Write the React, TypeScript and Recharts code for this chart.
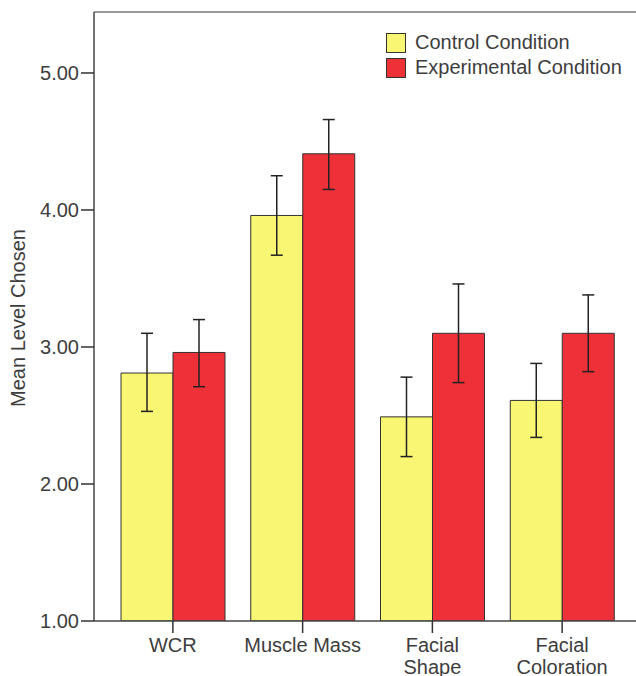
import { BarChart, Bar, XAxis, YAxis, ErrorBar, Legend, ReferenceLine, Label } from 'recharts'

const categories = ['WCR', 'Muscle Mass', 'Facial\nShape', 'Facial\nColoration']
const controlMeans = [2.81, 3.96, 2.49, 2.61]
const controlErrors = [[0.28, 0.29], [0.29, 0.29], [0.29, 0.29], [0.27, 0.27]]
const experimentalMeans = [2.96, 4.41, 3.10, 3.10]
const experimentalErrors = [[0.25, 0.24], [0.26, 0.25], [0.36, 0.36], [0.28, 0.28]]
const yTicks = [1, 2, 3, 4, 5]
const Y_MIN = 1
const Y_MAX = 5.445

const seriesNames = ['Control Condition', 'Experimental Condition']
const YELLOW = '#f8f672'
const RED = '#ee3039'
const TEXT = '#3d3d3d'
const FONT = 'Arial, "Liberation Sans", Helvetica, sans-serif'

const chartData = categories.map((name, i) => ({
  name,
  control: controlMeans[i],
  controlErr: controlErrors[i],
  experimental: experimentalMeans[i],
  experimentalErr: experimentalErrors[i]
}))

function CategoryTick({ x, y, payload }: any) {
  const lines = String(payload.value).split('\n')
  return (
    <text x={x} y={y} textAnchor="middle" fill={TEXT} fontSize={20} fontFamily={FONT}>
      {lines.map((line, i) => (
        <tspan key={i} x={x} dy={i === 0 ? 17 : 22}>{line}</tspan>
      ))}
    </text>
  )
}

function LegendBox() {
  const colors = [YELLOW, RED]
  return (
    <div style={{ fontFamily: FONT, fontSize: 20, color: TEXT }}>
      {seriesNames.map((name, i) => (
        <div key={name} style={{ display: 'flex', alignItems: 'center', height: 25 }}>
          <span style={{
            width: 18, height: 18, background: colors[i],
            border: '1px solid #333', marginRight: 9, display: 'inline-block'
          }} />
          <span style={{ lineHeight: '25px' }}>{name}</span>
        </div>
      ))}
    </div>
  )
}

export default function App() {
  return (
    <div style={{ position: 'absolute', left: 0, top: 0, background: '#fff' }}>
      <BarChart
        width={636}
        height={676}
        data={chartData}
        margin={{ top: 12, right: 0, bottom: 0, left: 0 }}
        barGap={0}
        barSize={52}
      >
        <XAxis
          dataKey="name"
          height={55}
          padding={{ left: 14, right: 9 }}
          interval={0}
          tickSize={12}
          tickMargin={2}
          tick={<CategoryTick />}
          axisLine={{ stroke: '#444', strokeWidth: 1.5 }}
          tickLine={{ stroke: '#333', strokeWidth: 1.5 }}
        />
        <YAxis
          width={94}
          domain={[Y_MIN, Y_MAX]}
          ticks={yTicks}
          allowDataOverflow
          tickFormatter={(v: number) => v.toFixed(2)}
          tickSize={13}
          tickMargin={2}
          tick={{ fill: TEXT, fontSize: 20, fontFamily: FONT }}
          axisLine={{ stroke: '#444', strokeWidth: 1.5 }}
          tickLine={{ stroke: '#333', strokeWidth: 1.5 }}
        >
          <Label
            content={() => (
              <text
                x={18}
                y={318}
                transform="rotate(-90 18 318)"
                textAnchor="middle"
                dominantBaseline="central"
                fill={TEXT}
                fontSize={20}
                fontFamily={FONT}
              >
                Mean Level Chosen
              </text>
            )}
          />
        </YAxis>
        <ReferenceLine y={Y_MAX} stroke="#777" strokeWidth={1.5} ifOverflow="visible" />
        <Legend
          verticalAlign="middle"
          align="center"
          layout="vertical"
          content={<LegendBox />}
          wrapperStyle={{ position: 'absolute', left: 386, top: 30, width: 'auto' }}
        />
        <Bar dataKey="control" name={seriesNames[0]} fill={YELLOW} stroke="#333" strokeWidth={1} isAnimationActive={false}>
          <ErrorBar dataKey="controlErr" width={6} stroke="#222" strokeWidth={1.5} isAnimationActive={false} />
        </Bar>
        <Bar dataKey="experimental" name={seriesNames[1]} fill={RED} stroke="#333" strokeWidth={1} isAnimationActive={false}>
          <ErrorBar dataKey="experimentalErr" width={6} stroke="#222" strokeWidth={1.5} isAnimationActive={false} />
        </Bar>
      </BarChart>
    </div>
  )
}
